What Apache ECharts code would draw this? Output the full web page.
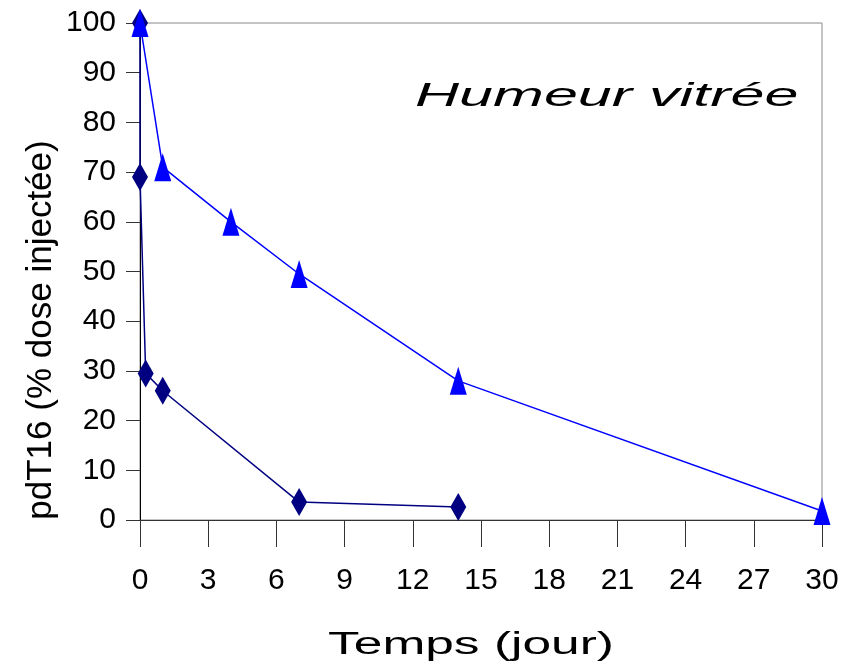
<!DOCTYPE html>
<html><head><meta charset="utf-8">
<script src="https://cdn.jsdelivr.net/npm/echarts@6/dist/echarts.min.js"></script>
<style>html,body{margin:0;padding:0;background:#fff}#c{width:843px;height:672px}</style>
</head><body><div id="c"></div>
<script>
const triDays = [0, 1, 4, 7, 14, 30];
const triValues = [100, 71, 60, 49.5, 28, 1.8];
const diaDays = [0, 0, 0.25, 1, 7, 14];
const diaValues = [100, 69, 29.5, 26, 3.6, 2.6];
const xTicks = [0, 3, 6, 9, 12, 15, 18, 21, 24, 27, 30];
const yTicks = [0, 10, 20, 30, 40, 50, 60, 70, 80, 90, 100];
const title = 'Humeur vitrée';
const xName = 'Temps (jour)';
const yName = 'pdT16 (% dose injectée)';

const chart = echarts.init(document.getElementById('c'), null, {renderer: 'canvas'});
const labelFont = '"Liberation Sans", Arial, sans-serif';
chart.setOption({
  animation: false,
  grid: {left: 140, right: 21, top: 23, bottom: 152, show: true, borderColor: '#888', borderWidth: 1},
  graphic: [
    {type: 'text', x: 415, y: 97, scaleX: 1.85, z: 10,
     style: {text: title, font: 'italic 33px "Liberation Sans", Arial, sans-serif', fill: '#000', textAlign: 'left', textVerticalAlign: 'middle'}},
    {type: 'text', x: 471, y: 645, scaleX: 1.66, z: 10,
     style: {text: xName, font: '31px "Liberation Sans", Arial, sans-serif', fill: '#000', textAlign: 'center', textVerticalAlign: 'middle'}},
    {type: 'text', x: 41, y: 330, rotation: Math.PI / 2, z: 10,
     style: {text: yName, font: '35px "Liberation Sans", Arial, sans-serif', fill: '#000', textAlign: 'center', textVerticalAlign: 'middle'}}
  ],
  xAxis: {
    type: 'value', min: xTicks[0], max: xTicks[xTicks.length - 1], interval: 3,
    axisLine: {show: true, lineStyle: {color: '#333', width: 1}},
    axisTick: {show: true, inside: false, length: 27, lineStyle: {color: '#333', width: 1}},
    axisLabel: {margin: 46, fontFamily: labelFont, fontSize: 30, color: '#000'},
    splitLine: {show: false}
  },
  yAxis: {
    type: 'value', min: yTicks[0], max: yTicks[yTicks.length - 1], interval: 10,
    axisLine: {show: true, lineStyle: {color: '#000', width: 1}},
    axisTick: {show: true, inside: false, length: 14, lineStyle: {color: '#333', width: 1}},
    axisLabel: {margin: 24, fontFamily: labelFont, fontSize: 30, color: '#000'},
    splitLine: {show: false}
  },
  series: [
    {
      type: 'line', data: triDays.map((d, i) => [d, triValues[i]]),
      symbol: 'triangle', symbolSize: [17, 28],
      lineStyle: {color: '#0000FF', width: 1.5},
      itemStyle: {color: '#0000FF'}, z: 3
    },
    {
      type: 'line', data: diaDays.map((d, i) => [d, diaValues[i]]),
      symbol: 'diamond', symbolSize: [16, 28],
      lineStyle: {color: '#000080', width: 1.5},
      itemStyle: {color: '#000080'}, z: 2
    }
  ]
});
</script></body></html>
